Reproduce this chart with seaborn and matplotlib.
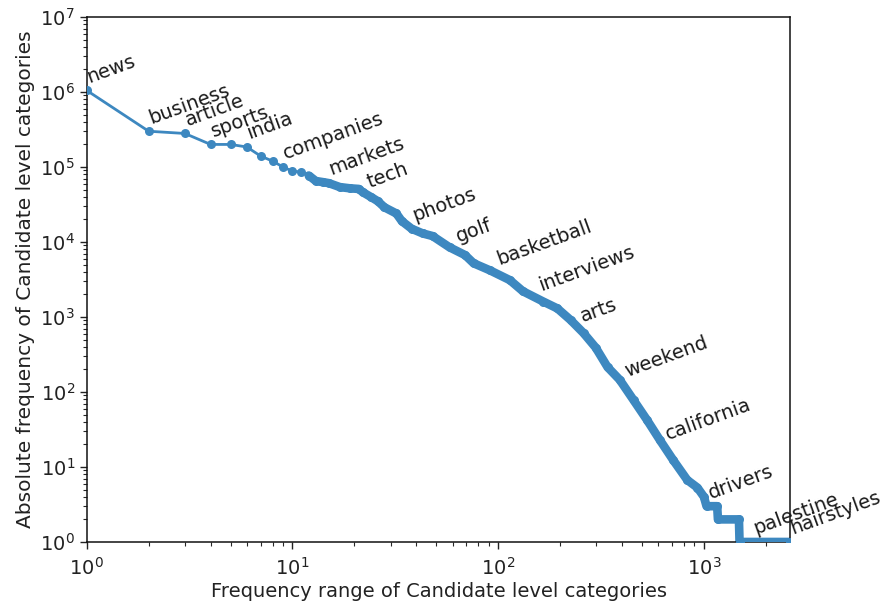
import numpy as np
import pandas as pd
import matplotlib
matplotlib.use("Agg")
import matplotlib.pyplot as plt
import seaborn as sns

# Rank (x) and absolute frequency (y)
ranks = [1, 2, 3, 4, 5, 6, 7, 8, 9, 10, 11, 12, 13, 14, 15, 17, 19, 21, 22, 24,
         26, 28, 32, 34, 38, 43, 48, 58, 69, 76, 91, 114, 132, 166, 194, 225,
         260, 298, 340, 390, 455, 530, 610, 710, 830, 930, 1000, 1030, 1160,
         1170, 1480, 1490, 2630]
freqs = [1.05e6, 3.0e5, 2.8e5, 2.0e5, 2.0e5, 1.85e5, 1.4e5, 1.2e5, 1.0e5, 8.8e4,
         8.6e4, 7.7e4, 6.5e4, 6.3e4, 6.1e4, 5.4e4, 5.2e4, 5.1e4, 4.6e4, 4.0e4,
         3.5e4, 2.9e4, 2.4e4, 1.9e4, 1.5e4, 1.3e4, 1.2e4, 8.5e3, 6.7e3, 5.2e3,
         4.2e3, 3.1e3, 2.2e3, 1.6e3, 1.3e3, 9.1e2, 6.1e2, 3.9e2, 2.15e2, 1.45e2,
         78, 42, 23, 12.3, 6.7, 5.3, 4, 3, 3, 2, 2, 1, 1]

# Annotated categories
label_words = ["news", "business", "article", "sports", "india", "companies",
               "markets", "tech", "photos", "golf", "basketball", "interviews",
               "arts", "weekend", "california", "drivers", "palestine",
               "hairstyles"]
label_ranks = [1, 2, 3, 4, 6, 9, 15, 23, 38, 62, 98, 157, 250, 410, 650, 1050,
               1730, 2630]
label_freqs = [1.05e6, 3.0e5, 2.8e5, 2.0e5, 1.85e5, 1.0e5, 6.1e4, 4.2e4, 1.5e4,
               7.8e3, 3.9e3, 1.75e3, 6.7e2, 1.25e2, 18, 3, 1, 1]

df = pd.DataFrame({"rank": ranks, "freq": freqs})
dense = df[df["rank"] >= 12]

sns.set_style("ticks")
plt.rcParams["font.family"] = ["DejaVu Sans"]

fig = plt.figure(figsize=(8.85, 6.08), dpi=100)
ax = fig.add_axes([0.098, 0.1086, 0.795, 0.8634])

color = "#3d88c0"
sns.lineplot(data=dense, x="rank", y="freq", ax=ax, color=color,
             linewidth=6.2, estimator=None, sort=False,
             solid_capstyle="round", solid_joinstyle="round", zorder=2)
sns.lineplot(data=df, x="rank", y="freq", ax=ax, color=color, linewidth=2,
             marker="o", markersize=6.5, markeredgewidth=0,
             estimator=None, sort=False, zorder=3)

ax.set_xscale("log")
ax.set_yscale("log")
ax.set_xlim(1, 2630)
ax.set_ylim(1, 1e7)

for w, r, f in zip(label_words, label_ranks, label_freqs):
    ax.annotate(w, xy=(r, f), xytext=(2, 5.5), textcoords="offset points",
                rotation=20, rotation_mode="anchor", ha="left",
                va="baseline", fontsize=14, color="#1a1a1a",
                annotation_clip=False, zorder=4)

ax.set_xlabel("Frequency range of Candidate level categories", fontsize=14,
              color="#222222", labelpad=2)
ax.set_ylabel("Absolute frequency of Candidate level categories",
              fontsize=14.5, color="#222222", labelpad=4)
ax.tick_params(axis="both", which="major", labelsize=14, length=5,
               width=1, colors="#222222")
ax.tick_params(axis="x", which="major", pad=6)
ax.tick_params(axis="both", which="minor", length=3, width=0.8)
ax.xaxis.get_offset_text().set_visible(False)
ax.yaxis.get_offset_text().set_visible(False)
for s in ax.spines.values():
    s.set_visible(True)
    s.set_color("#111111")
    s.set_linewidth(1.1)

fig.savefig("out.png", dpi=100)
